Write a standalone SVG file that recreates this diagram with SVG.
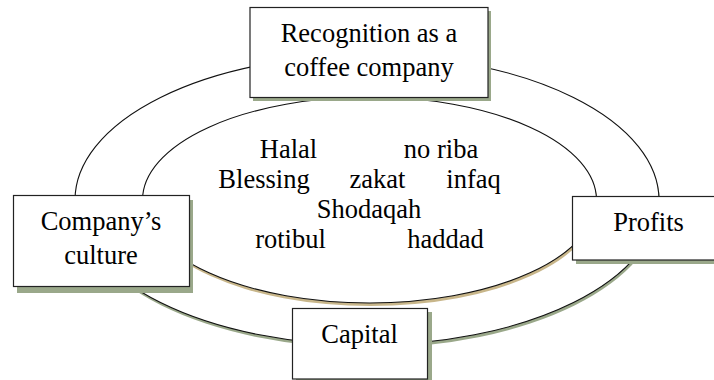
<svg xmlns="http://www.w3.org/2000/svg" width="714" height="380" viewBox="0 0 714 380">
<style>
  .box { fill: #ffffff; stroke: #222222; stroke-width: 1.2; }
  .bshadow { fill: #9aa88a; }
  .ring { fill: #ffffff; stroke: #111111; stroke-width: 1.1; }
  .t { font-family: "Liberation Serif", serif; font-size: 26.5px; fill: #000000; text-anchor: middle; }
</style>
<rect width="714" height="380" fill="#ffffff"/>
<g id="connectors">
  <ellipse cx="368" cy="203" rx="292" ry="145" fill="#9aa88a"/>
  <ellipse class="ring" cx="367" cy="200" rx="292" ry="145"/>
  <ellipse cx="370.5" cy="203" rx="227" ry="103" fill="#c8b68a"/>
  <ellipse class="ring" cx="369.5" cy="200" rx="227" ry="103"/>
</g>
<g id="values">
  <text class="t" x="288.5" y="158">Halal</text>
  <text class="t" x="441" y="158">no riba</text>
  <text class="t" x="264" y="188">Blessing</text>
  <text class="t" x="377.5" y="188">zakat</text>
  <text class="t" x="473.5" y="188">infaq</text>
  <text class="t" x="369" y="218">Shodaqah</text>
  <text class="t" x="290.5" y="248">rotibul</text>
  <text class="t" x="445.5" y="248">haddad</text>
</g>
<g id="recognition">
  <rect class="bshadow" x="253" y="11" width="238" height="90"/>
  <rect class="box" x="250" y="7.5" width="238" height="90"/>
  <text class="t" x="369" y="42">Recognition as a</text>
  <text class="t" x="369" y="76">coffee company</text>
</g>
<g id="culture">
  <rect class="bshadow" x="17" y="200" width="176" height="93"/>
  <rect class="box" x="13.5" y="195.5" width="176" height="91"/>
  <text class="t" x="101" y="230">Company’s</text>
  <text class="t" x="101" y="264">culture</text>
</g>
<g id="profits">
  <rect class="bshadow" x="576" y="200" width="150" height="64"/>
  <rect class="box" x="572.5" y="196.5" width="152" height="63.5"/>
  <text class="t" x="648.5" y="231">Profits</text>
</g>
<g id="capital">
  <rect class="bshadow" x="296" y="312" width="136" height="72"/>
  <rect class="box" x="292.5" y="308.5" width="135" height="70.5"/>
  <text class="t" x="359.5" y="343">Capital</text>
</g>
</svg>
